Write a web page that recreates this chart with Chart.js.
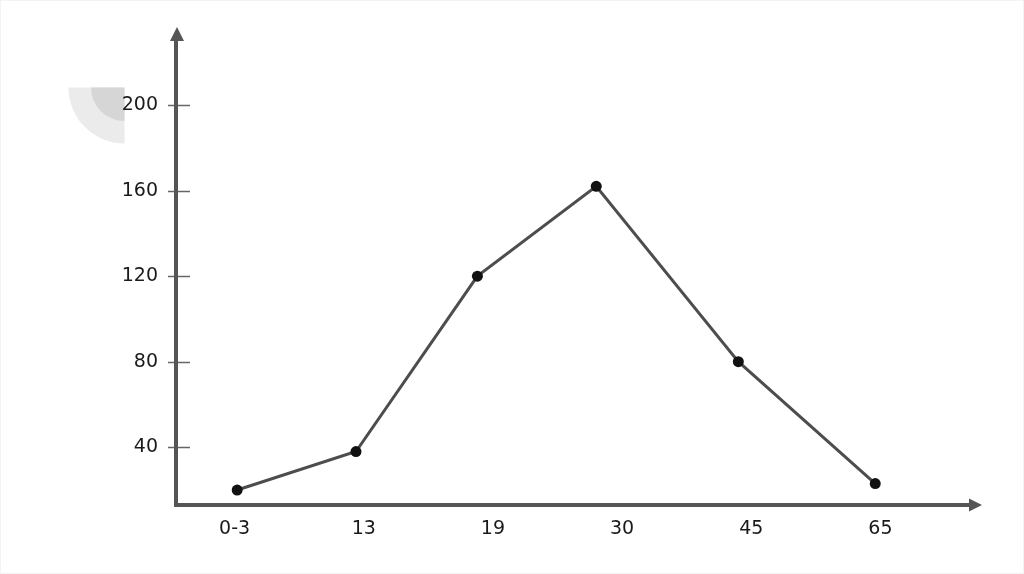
<!DOCTYPE html>
<html>
<head>
<meta charset="utf-8">
<script src="https://cdn.jsdelivr.net/npm/chart.js@4"></script>
<style>
html,body{margin:0;padding:0;background:#fff;}
#wrap{position:relative;width:1024px;height:574px;}
</style>
</head>
<body>
<div id="wrap"><canvas id="c" width="1024" height="574"></canvas></div>
<script>
const categories = ["0-3", "13", "19", "30", "45", "65"];
// where each point sits along the category axis (in category-index units)
const pointX = [0.02, 0.94, 1.88, 2.80, 3.90, 4.96];
const values = [20, 38, 120, 162, 80, 23];
const yTicks = [40, 80, 120, 160, 200];
const yMin = 13, yMax = 236;

const decor = {
  id: 'decor',
  beforeDraw(chart) {
    const ctx = chart.ctx;
    ctx.save();
    ctx.fillStyle = '#fff';
    ctx.fillRect(0, 0, chart.width, chart.height);
    ctx.strokeStyle = '#f3f3f3';
    ctx.lineWidth = 1;
    ctx.strokeRect(0.5, 0.5, chart.width - 1, chart.height - 1);
    const cx = 124.5, cy = 87.5;
    ctx.fillStyle = '#ebebeb';
    ctx.beginPath(); ctx.moveTo(cx, cy); ctx.arc(cx, cy, 56, Math.PI / 2, Math.PI); ctx.closePath(); ctx.fill();
    ctx.fillStyle = '#d6d6d6';
    ctx.beginPath(); ctx.moveTo(cx, cy); ctx.arc(cx, cy, 33.5, Math.PI / 2, Math.PI); ctx.closePath(); ctx.fill();
    ctx.restore();
  },
  beforeDatasetsDraw(chart) {
    const ctx = chart.ctx;
    const a = chart.chartArea;
    const ys = chart.scales.y;
    const ax = a.left + 6, ay = a.bottom;
    ctx.save();
    ctx.strokeStyle = '#666';
    ctx.lineWidth = 1.5;
    yTicks.forEach(v => {
      const py = Math.round(ys.getPixelForValue(v)) + 0.5;
      ctx.beginPath(); ctx.moveTo(ax - 8, py); ctx.lineTo(ax + 14, py); ctx.stroke();
    });
    ctx.strokeStyle = '#555';
    ctx.fillStyle = '#555';
    ctx.lineWidth = 4;
    ctx.beginPath(); ctx.moveTo(ax, ay + 2); ctx.lineTo(ax, a.top + 12); ctx.stroke();
    ctx.beginPath(); ctx.moveTo(ax + 1, a.top - 1); ctx.lineTo(ax - 6, a.top + 13); ctx.lineTo(ax + 8, a.top + 13); ctx.closePath(); ctx.fill();
    ctx.beginPath(); ctx.moveTo(ax - 2, ay); ctx.lineTo(a.right + 26, ay); ctx.stroke();
    ctx.beginPath(); ctx.moveTo(a.right + 37, ay); ctx.lineTo(a.right + 24, ay - 6.5); ctx.lineTo(a.right + 24, ay + 6.5); ctx.closePath(); ctx.fill();
    ctx.restore();
  }
};

new Chart(document.getElementById('c'), {
  type: 'line',
  data: {
    datasets: [{
      data: values.map((v, i) => ({ x: pointX[i], y: v })),
      borderColor: '#4d4d4d',
      borderWidth: 3,
      pointRadius: 5.5,
      pointBackgroundColor: '#111',
      pointBorderColor: '#111',
      pointBorderWidth: 0,
      tension: 0,
      clip: false
    }]
  },
  options: {
    responsive: false,
    animation: false,
    devicePixelRatio: 1,
    layout: { padding: { left: 0, right: 79, top: 28, bottom: 0 } },
    plugins: { legend: { display: false }, tooltip: { enabled: false } },
    scales: {
      x: {
        type: 'linear',
        min: -0.5, max: categories.length - 0.5,
        grid: { display: false, drawTicks: false },
        border: { display: false },
        afterBuildTicks(s) { s.ticks = categories.map((c, i) => ({ value: i })); },
        ticks: {
          color: '#1a1a1a', font: { family: 'DejaVu Sans', size: 19 }, padding: 13, maxRotation: 0,
          callback: (v) => categories[v]
        },
        afterFit(s) { s.height = 69; }
      },
      y: {
        min: yMin, max: yMax,
        grid: { display: false, drawTicks: false },
        border: { display: false },
        afterBuildTicks(s) { s.ticks = yTicks.map(v => ({ value: v })); },
        ticks: { color: '#1a1a1a', font: { family: 'DejaVu Sans', size: 19 }, padding: 12 },
        afterFit(s) { s.width = 170; }
      }
    }
  },
  plugins: [decor]
});
</script>
</body>
</html>
